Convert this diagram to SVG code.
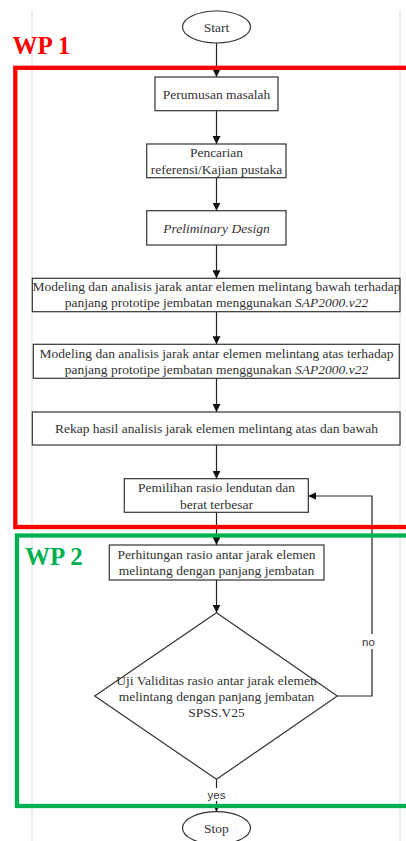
<svg xmlns="http://www.w3.org/2000/svg" width="406" height="841" viewBox="0 0 406 841">
<style>
.n{fill:#fff;stroke:#333;stroke-width:1.2}
.t{font-family:"Liberation Serif","Times New Roman",serif;font-size:13.5px;fill:#333;text-anchor:middle}
.c{fill:none;stroke:#222;stroke-width:1.2}
.l{font-family:"Liberation Sans",Arial,sans-serif;font-size:11.5px;fill:#333;text-anchor:middle}
.wp{font-family:"Liberation Serif","Times New Roman",serif;font-size:25px;font-weight:bold}
.pg{stroke:#ddd;stroke-width:1}
</style>
<defs>
<marker id="ah" viewBox="0 0 10 10" refX="10" refY="5" markerWidth="8" markerHeight="8" markerUnits="userSpaceOnUse" orient="auto">
<path d="M0,0 L10,5 L0,10 z" fill="#111"/>
</marker>
</defs>
<rect width="406" height="841" fill="#fff"/>
<line class="pg" x1="32" y1="10" x2="32" y2="841"/>
<line class="pg" x1="400" y1="10" x2="400" y2="841"/>
<g id="connectors">
<path class="c" d="M216.5,43 V77" marker-end="url(#ah)"/>
<path class="c" d="M216.5,110.7 V144" marker-end="url(#ah)"/>
<path class="c" d="M216.5,177.7 V210.7" marker-end="url(#ah)"/>
<path class="c" d="M216.5,245 V278.3" marker-end="url(#ah)"/>
<path class="c" d="M216.5,311.7 V344.3" marker-end="url(#ah)"/>
<path class="c" d="M216.5,378.3 V412" marker-end="url(#ah)"/>
<path class="c" d="M216.5,445 V478.7" marker-end="url(#ah)"/>
<path class="c" d="M216.5,512.3 V545" marker-end="url(#ah)"/>
<path class="c" d="M216.5,580 V612.7" marker-end="url(#ah)"/>
<path class="c" d="M337.3,696 H372 V496 H308.3" marker-end="url(#ah)"/>
<path class="c" d="M216.5,779.3 V811.7" marker-end="url(#ah)"/>
<rect x="362" y="634" width="20" height="15" fill="#fff"/>
<text class="l" x="368.5" y="646">no</text>
<rect x="205" y="788" width="23" height="13" fill="#fff"/>
<text class="l" x="216.5" y="799">yes</text>
</g>
<g id="start">
<ellipse class="n" cx="216.5" cy="27" rx="34" ry="16"/>
<text class="t" x="216.5" y="31.5">Start</text>
</g>
<g id="perumusan">
<rect class="n" x="155" y="77" width="123" height="33.7"/>
<text class="t" x="216.5" y="98.5">Perumusan masalah</text>
</g>
<g id="pencarian">
<rect class="n" x="146.7" y="144" width="139.3" height="33.7"/>
<text class="t" x="216.5" y="157">Pencarian</text>
<text class="t" x="216.5" y="173.5">referensi/Kajian pustaka</text>
</g>
<g id="preliminary">
<rect class="n" x="146.7" y="210.7" width="139.3" height="34.3"/>
<text class="t" x="216.5" y="232.5" font-style="italic">Preliminary Design</text>
</g>
<g id="modeling-bawah">
<rect class="n" x="32.3" y="278.3" width="367.7" height="33.4"/>
<text class="t" x="216.5" y="291">Modeling dan analisis jarak antar elemen melintang bawah terhadap</text>
<text class="t" x="216.5" y="307">panjang prototipe jembatan menggunakan <tspan font-style="italic">SAP2000.v22</tspan></text>
</g>
<g id="modeling-atas">
<rect class="n" x="33.3" y="344.3" width="366" height="34"/>
<text class="t" x="216.5" y="358">Modeling dan analisis jarak antar elemen melintang atas terhadap</text>
<text class="t" x="216.5" y="373.5">panjang prototipe jembatan menggunakan <tspan font-style="italic">SAP2000.v22</tspan></text>
</g>
<g id="rekap">
<rect class="n" x="32.3" y="412" width="367.7" height="33"/>
<text class="t" x="216.5" y="432.5">Rekap hasil analisis jarak elemen melintang atas dan bawah</text>
</g>
<g id="pemilihan">
<rect class="n" x="124.3" y="478.7" width="184" height="33.6"/>
<text class="t" x="216.5" y="492">Pemilihan rasio lendutan dan</text>
<text class="t" x="216.5" y="508.5">berat terbesar</text>
</g>
<g id="perhitungan">
<rect class="n" x="109.3" y="545" width="214.7" height="35"/>
<text class="t" x="216.5" y="558.5">Perhitungan rasio antar jarak elemen</text>
<text class="t" x="216.5" y="574.5">melintang dengan panjang jembatan</text>
</g>
<g id="uji">
<polygon class="n" points="216.5,612.7 337.3,696 216.5,779.3 94.7,696"/>
<text class="t" x="216.5" y="685">Uji Validitas rasio antar jarak elemen</text>
<text class="t" x="216.5" y="701">melintang dengan panjang jembatan</text>
<text class="t" x="216.5" y="717">SPSS.V25</text>
</g>
<g id="stop">
<ellipse class="n" cx="216.5" cy="828" rx="34" ry="16.3"/>
<text class="t" x="216.5" y="832.5">Stop</text>
</g>
<g id="wp1">
<rect x="15.3" y="67.8" width="400" height="459.2" fill="none" stroke="#ff0000" stroke-width="4.3"/>
<text class="wp" x="12.5" y="54.3" fill="#ff0000">WP 1</text>
</g>
<g id="wp2">
<rect x="17" y="535.5" width="400" height="270.5" fill="none" stroke="#00b050" stroke-width="4.3"/>
<text class="wp" x="25" y="565" fill="#00b050">WP 2</text>
</g>
</svg>
